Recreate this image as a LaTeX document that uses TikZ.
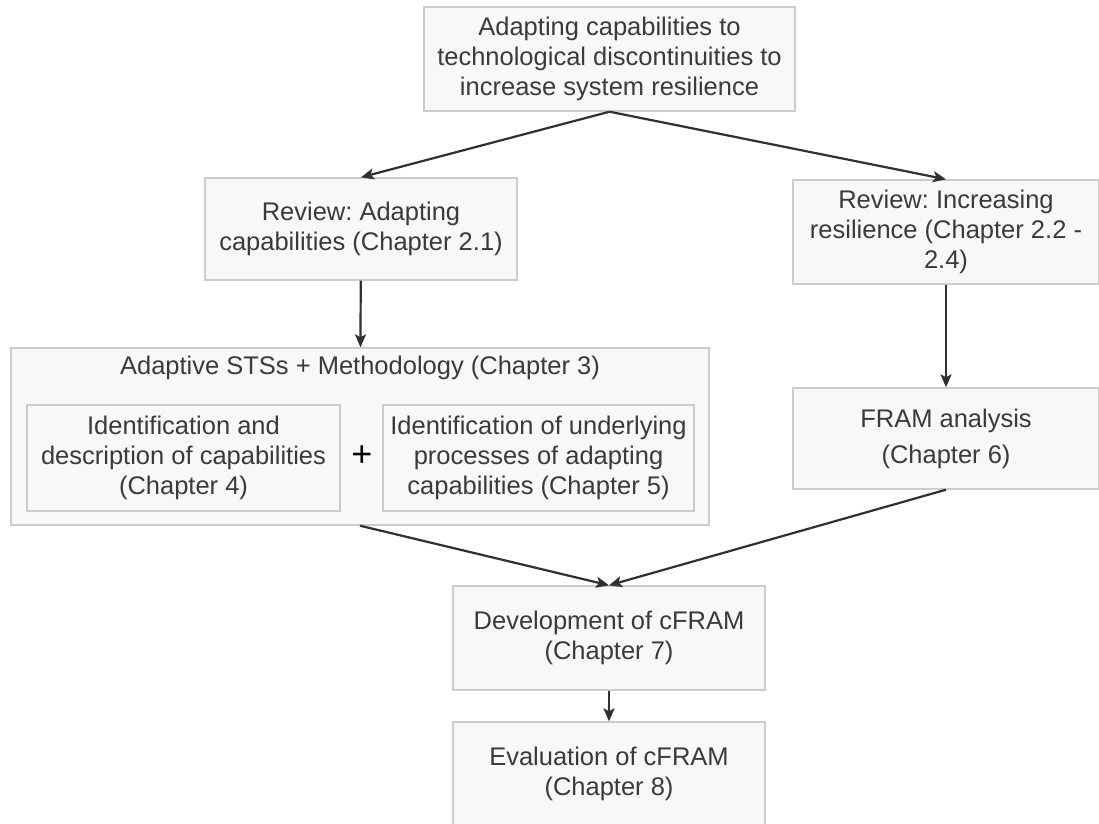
\documentclass[tikz,border=0pt]{standalone}
\usepackage{fontspec}
\setmainfont{Liberation Sans}
\usetikzlibrary{arrows.meta}
\definecolor{boxfill}{HTML}{F8F8F8}
\definecolor{boxline}{HTML}{CCCCCC}
\definecolor{txtgray}{HTML}{3A3A3A}
\definecolor{arrgray}{HTML}{303030}
\frenchspacing
\begin{document}
\begin{tikzpicture}[x=1pt,y=-1pt,>={Stealth[length=13pt,width=11pt,inset=3pt]},
  box/.style={draw=boxline,fill=boxfill,line width=1.4pt,text=txtgray,align=center,
    inner sep=0pt,font=\fontsize{25.5}{30}\selectfont},
  link/.style={->,draw=arrgray,line width=2.2pt}]
  \useasboundingbox (0,0) rectangle (1099,823);
        \node (goal) [box, minimum width=371pt, minimum height=104pt] at (609.5,59)
          {Adapting capabilities to\\technological discontinuities to\\increase system resilience};
        \node (revcap) [box, minimum width=312pt, minimum height=102pt] at (361,229)
          {Review: Adapting\\capabilities (Chapter 2.1)};
        \node (revres) [box, minimum width=306pt, minimum height=104pt] at (946,232)
          {Review: Increasing\\resilience (Chapter 2.2 -\\2.4)};
        \node (sts) [box, minimum width=698pt, minimum height=177pt] at (360,436.5) {};
        \node (ststitle) [text=txtgray, font=\fontsize{25.5}{30}\selectfont] at (360,368)
          {Adaptive STSs + Methodology (Chapter 3)};
        \node (identcap) [box, minimum width=313pt, minimum height=106pt] at (183.5,458)
          {Identification and\\description of capabilities\\(Chapter 4)};
        \node (plus) [font=\fontsize{36}{36}\selectfont] at (362,456) {+};
        \node (procs) [box, minimum width=311pt, minimum height=106pt] at (538.5,458)
          {Identification of underlying\\processes of adapting\\capabilities (Chapter 5)};
        \node (fram) [box, minimum width=306pt, minimum height=101pt,
          font=\fontsize{25.5}{36}\selectfont] at (946,438.5)
          {FRAM analysis\\(Chapter 6)};
        \node (dev) [box, minimum width=312pt, minimum height=104pt] at (609,638)
          {Development of cFRAM\\(Chapter 7)};
        \node (eval) [box, minimum width=312pt, minimum height=104pt] at (609,774)
          {Evaluation of cFRAM\\(Chapter 8)};
        \draw[link] (goal.south) -- (revcap.north);
        \draw[link] (goal.south) -- (revres.north);
        \draw[link] (revcap) -- (sts);
        \draw[link] (revres) -- (fram);
        \draw[link] (sts.south) -- (dev.north);
        \draw[link] (fram.south) -- (dev.north);
        \draw[link] (dev) -- (eval);
    \end{tikzpicture}
\end{document}
